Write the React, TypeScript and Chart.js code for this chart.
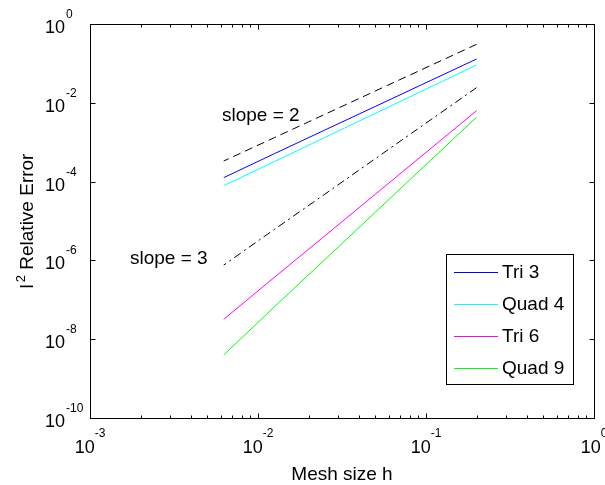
import React, { useEffect, useRef } from "react";
import { Chart, registerables } from "chart.js";

Chart.register(...registerables);

// ---- data ----
const meshSizes = [0.2, 0.1, 0.05, 0.025, 0.0125, 0.00625];
const slope2Ref = [0.305, 0.078, 0.02, 0.0051, 0.0013, 3.33e-4];
const slope3Ref = [0.0242, 0.00305, 3.84e-4, 4.8e-5, 6.1e-6, 7.6e-7];
const tri3 = [0.129, 0.0324, 0.0081, 0.00204, 5.1e-4, 1.26e-4];
const quad4 = [0.091, 0.0222, 0.0054, 0.00132, 3.2e-4, 7.9e-5];
const tri6 = [6.3e-3, 5.5e-4, 4.8e-5, 4.2e-6, 3.7e-7, 3.2e-8];
const quad9 = [4.3e-3, 2.7e-4, 1.68e-5, 1.05e-6, 6.6e-8, 4.0e-9];

const seriesNames = ["Tri 3", "Quad 4", "Tri 6", "Quad 9"];
const seriesColors = ["#0000ff", "#00ffff", "#ff00ff", "#00ff00"];

const xMajorTicks = [1e-3, 1e-2, 1e-1, 1];
const xTickExponents = ["-3", "-2", "-1", "0"];
const xMinorMultipliers = [2, 3, 4, 5, 6, 7, 8, 9];
const yMajorTicks = [1, 1e-2, 1e-4, 1e-6, 1e-8, 1e-10];
const yTickExponents = ["0", "-2", "-4", "-6", "-8", "-10"];

const annotationTexts = ["slope = 2", "slope = 3"];
const annotationX = [0.0061, 0.00173];
const annotationY = [4.8e-3, 1.1e-6];

const xTitle = "Mesh size h";
const yTitleBase = "l";
const yTitleSup = "2";
const yTitleRest = " Relative Error";

const FONT = '"Liberation Sans", Arial, Helvetica, sans-serif';

const toPoints = (vals: number[]) => meshSizes.map((h, i) => ({ x: h, y: vals[i] }));

const axesPlugin = {
  id: "matlabAxes",
  afterDraw(chart: any) {
    const ctx: CanvasRenderingContext2D = chart.ctx;
    const { left, right, top, bottom } = chart.chartArea;
    const xs = chart.scales.x;
    const ys = chart.scales.y;
    const L = Math.floor(left) + 0.5;
    const R = Math.floor(right) + 0.5;
    const T = Math.floor(top) + 0.5;
    const B = Math.floor(bottom) + 0.5;
    ctx.save();
    ctx.strokeStyle = "#000";
    ctx.fillStyle = "#000";
    ctx.lineWidth = 1;
    ctx.setLineDash([]);
    // box
    ctx.strokeRect(L, T, R - L, B - T);
    // x ticks
    ctx.beginPath();
    for (let i = 0; i < xMajorTicks.length; i++) {
      const px = Math.round(xs.getPixelForValue(xMajorTicks[i])) + 0.5;
      ctx.moveTo(px, B); ctx.lineTo(px, B - 5);
      ctx.moveTo(px, T); ctx.lineTo(px, T + 5);
      if (i < xMajorTicks.length - 1) {
        for (const m of xMinorMultipliers) {
          const mx = Math.round(xs.getPixelForValue(xMajorTicks[i] * m)) + 0.5;
          ctx.moveTo(mx, B); ctx.lineTo(mx, B - 3);
          ctx.moveTo(mx, T); ctx.lineTo(mx, T + 3);
        }
      }
    }
    // y ticks
    for (const v of yMajorTicks) {
      const py = Math.round(ys.getPixelForValue(v)) + 0.5;
      ctx.moveTo(L, py); ctx.lineTo(L + 5, py);
      ctx.moveTo(R, py); ctx.lineTo(R - 5, py);
    }
    ctx.stroke();

    // x tick labels
    ctx.textBaseline = "alphabetic";
    ctx.textAlign = "left";
    for (let i = 0; i < xMajorTicks.length; i++) {
      const px = xs.getPixelForValue(xMajorTicks[i]);
      ctx.font = `18px ${FONT}`;
      const w1 = ctx.measureText("10").width;
      ctx.font = `12px ${FONT}`;
      const w2 = ctx.measureText(xTickExponents[i]).width;
      const start = px - (w1 + w2) / 2;
      ctx.font = `18px ${FONT}`;
      ctx.fillText("10", start, bottom + 35);
      ctx.font = `12px ${FONT}`;
      ctx.fillText(xTickExponents[i], start + w1, bottom + 19);
    }
    // y tick labels
    for (let i = 0; i < yMajorTicks.length; i++) {
      const py = ys.getPixelForValue(yMajorTicks[i]);
      ctx.font = `18px ${FONT}`;
      ctx.textAlign = "right";
      ctx.fillText("10", left - 25, py + 9);
      ctx.font = `12px ${FONT}`;
      ctx.textAlign = "left";
      ctx.fillText(yTickExponents[i], left - 24, py - 6);
    }

    // x title
    ctx.font = `19px ${FONT}`;
    ctx.textAlign = "center";
    ctx.fillText(xTitle, (left + right) / 2, 480);

    // y title (rotated)
    ctx.save();
    ctx.translate(33, (top + bottom) / 2);
    ctx.rotate(-Math.PI / 2);
    ctx.textAlign = "left";
    ctx.font = `19px ${FONT}`;
    const wb = ctx.measureText(yTitleBase).width;
    const wr = ctx.measureText(yTitleRest).width;
    ctx.font = `13px ${FONT}`;
    const ws = ctx.measureText(yTitleSup).width + 2;
    const sx = -(wb + ws + wr) / 2;
    ctx.font = `19px ${FONT}`;
    ctx.fillText(yTitleBase, sx, 0);
    ctx.font = `13px ${FONT}`;
    ctx.fillText(yTitleSup, sx + wb + 2, -8);
    ctx.font = `19px ${FONT}`;
    ctx.fillText(yTitleRest, sx + wb + ws, 0);
    ctx.restore();

    // annotations
    ctx.font = `19px ${FONT}`;
    ctx.textAlign = "left";
    ctx.textBaseline = "middle";
    for (let i = 0; i < annotationTexts.length; i++) {
      ctx.fillText(annotationTexts[i], xs.getPixelForValue(annotationX[i]), ys.getPixelForValue(annotationY[i]));
    }

    // legend
    const lx = 446.5, ly = 254.5, lw = 127, lh = 130;
    ctx.fillStyle = "#fff";
    ctx.fillRect(lx, ly, lw, lh);
    ctx.strokeStyle = "#000";
    ctx.strokeRect(lx, ly, lw, lh);
    ctx.textBaseline = "middle";
    for (let i = 0; i < seriesNames.length; i++) {
      const cy = 272 + i * 32;
      ctx.fillStyle = seriesColors[i];
      ctx.fillRect(454, cy, 44, 1);
      ctx.fillStyle = "#000";
      ctx.font = `19px ${FONT}`;
      ctx.fillText(seriesNames[i], 502, cy + 1);
    }
    ctx.restore();
  },
};

export default function App() {
  const canvasRef = useRef<HTMLCanvasElement | null>(null);

  useEffect(() => {
    if (!canvasRef.current) return;
    const seriesData = [tri3, quad4, tri6, quad9];
    const chart = new Chart(canvasRef.current, {
      type: "line",
      data: {
        datasets: [
          {
            label: "slope 2",
            data: toPoints(slope2Ref),
            borderColor: "#000",
            borderWidth: 1,
            borderDash: [8, 5],
            pointRadius: 0,
            fill: false,
          },
          ...seriesData.map((vals, i) => ({
            label: seriesNames[i],
            data: toPoints(vals),
            borderColor: seriesColors[i],
            borderWidth: 1,
            pointRadius: 0,
            fill: false,
          })),
          {
            label: "slope 3",
            data: toPoints(slope3Ref),
            borderColor: "#000",
            borderWidth: 1,
            borderDash: [8, 4, 2, 4],
            pointRadius: 0,
            fill: false,
          },
        ],
      },
      options: {
        responsive: false,
        animation: false,
        events: [],
        layout: { padding: { top: 24, right: 11, left: 0, bottom: 0 } },
        plugins: { legend: { display: false }, tooltip: { enabled: false } },
        scales: {
          x: {
            type: "logarithmic",
            min: 1e-3,
            max: 1,
            ticks: { display: false },
            grid: { display: false },
            border: { display: false },
            afterFit: (s: any) => { s.height = 67; },
          },
          y: {
            type: "logarithmic",
            min: 1e-10,
            max: 1,
            ticks: { display: false },
            grid: { display: false },
            border: { display: false },
            afterFit: (s: any) => { s.width = 90; },
          },
        },
      },
      plugins: [axesPlugin],
    } as any);
    return () => chart.destroy();
  }, []);

  return (
    <div style={{ position: "fixed", left: 0, top: 0, width: 605, height: 485, background: "#fff" }}>
      <canvas ref={canvasRef} width={605} height={485} style={{ display: "block", width: 605, height: 485 }} />
    </div>
  );
}
